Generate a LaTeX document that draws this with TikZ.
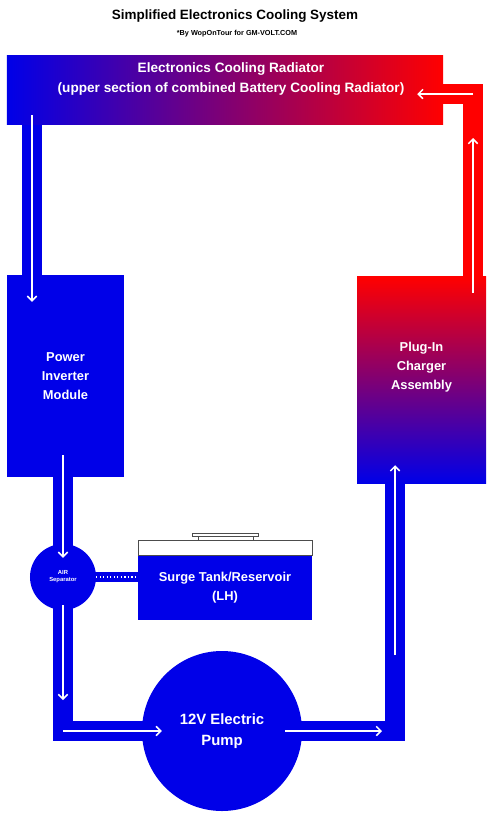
\documentclass[tikz,border=0pt]{standalone}
\usepackage{fontspec}
\setmainfont{Liberation Sans}
\usepackage{tikz}
\usetikzlibrary{arrows.meta, positioning, calc, backgrounds}
\definecolor{coolblue}{HTML}{0000E8}
\definecolor{hotred}{HTML}{FF0000}
\tikzset{
    pipe/.style={line width=0.58cm, line join=miter},
    flow/.style={draw=white, line width=1.3pt, -{Straight Barb[length=4pt, width=8pt]}},
    unitlabel/.style={text=white, font=\bfseries\fontsize{11}{16.5}\selectfont, align=center},
}

\begin{document}
\begin{tikzpicture}[x=0.03cm, y=-0.03cm]
    \useasboundingbox (0,0) rectangle (488,813);

    % title
    \node[font=\bfseries\fontsize{11.5}{13}\selectfont] (title) at (235,16) {Simplified Electronics Cooling System};
    \node[font=\bfseries\fontsize{6.2}{7}\selectfont] (credit) at (237,34) {*By WopOnTour for GM-VOLT.COM};

    % units of the loop
    \node[left color=coolblue, right color=hotred, minimum width=13.08cm, minimum height=2.04cm, inner sep=0pt] (radiator) at (225,90) {};
    \node[unitlabel, font=\bfseries\fontsize{11.6}{17.5}\selectfont] (radtext) at (231,79) {Electronics Cooling Radiator\\(upper section of combined Battery Cooling Radiator)};
    \node[fill=coolblue, minimum width=3.51cm, minimum height=6.06cm, inner sep=0pt, unitlabel] (pim) at (65.5,376) {Power\\Inverter\\Module};
    \node[top color=hotred, bottom color=coolblue, minimum width=3.87cm, minimum height=6.18cm, inner sep=0pt] (charger) at (421.5,380) {};
    \node[unitlabel] (chargertext) at ($(charger.center)+(0,-13)$) {Plug-In\\Charger\\Assembly};
    \node[circle, fill=coolblue, minimum size=1.98cm, inner sep=0pt, text=white, font=\bfseries\fontsize{5}{6}\selectfont, align=center] (airsep) at (63,577) {AIR\\Separator};
    \node[fill=coolblue, minimum width=5.22cm, minimum height=1.95cm, inner sep=0pt, unitlabel] (tank) at (225,587.5) {Surge Tank/Reservoir\\(LH)};
    \node[circle, fill=coolblue, minimum size=4.8cm, inner sep=0pt, text=white, font=\bfseries\fontsize{12.7}{18}\selectfont, align=center] (pump) at (222,731) {12V Electric\\Pump};

    % air space and cap of the tank
    \draw[black!70, fill=white] (tank.north west) rectangle ($(tank.north east)+(0,-15)$);
    \draw[black!70, fill=white] (192,533) rectangle (258,536);
    \draw[black!70] (198,536) -- (198,540) (253,536) -- (253,540);

    % pipes
    \coordinate (inlet) at (32,124);
    \coordinate (tr) at (473,94);
    \coordinate (bl) at (63,731);
    \coordinate (br) at (395,731);
    \begin{scope}[on background layer]
        \draw[pipe, draw=hotred] (radiator.center |- tr) -- (tr) -- (tr |- charger.center);
        \draw[pipe, draw=coolblue, line width=0.6cm] (inlet) -- (inlet |- pim.center);
        \draw[pipe, draw=coolblue] (bl |- pim.center) -- (bl) -- (br) -- (br |- charger.center);
        \draw[coolblue, line width=8pt] (airsep.center) -- (airsep.center -| tank.center);
    \end{scope}
    \draw[white, dotted, line width=1pt] (airsep.east) -- (airsep.east -| tank.west);

    % flow arrows
    \draw[flow] ($(radiator.south -| inlet)+(0,-9)$) -- ($(pim.north -| inlet)+(0,27)$);
    \draw[flow] ($(pim.south -| bl)+(0,-22)$) -- ($(airsep.north)+(0,14)$);
    \draw[flow] ($(airsep.south)+(0,-5)$) -- ($(bl)+(0,-31)$);
    \draw[flow] (bl) -- ($(pump.west)+(20,0)$);
    \draw[flow] ($(pump.east)+(-17,0)$) -- ($(br)+(-13,0)$);
    \draw[flow] ($(br)+(0,-76)$) -- ($(charger.south -| br)+(0,-18)$);
    \draw[flow] ($(charger.north -| tr)+(0,16)$) -- ($(tr)+(0,44)$);
    \draw[flow] (tr) -- ($(radiator.east |- tr)+(-26,0)$);
\end{tikzpicture}
\end{document}
